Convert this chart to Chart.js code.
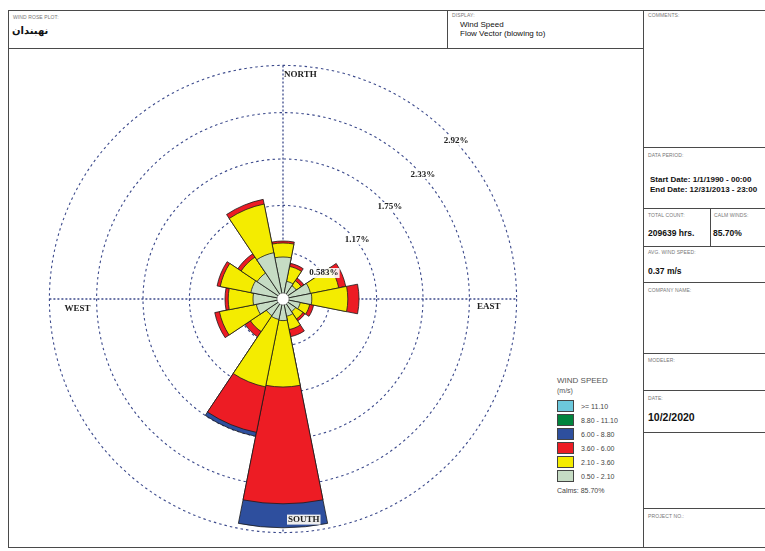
<!DOCTYPE html>
<html lang="fa">
<head>
<meta charset="utf-8" />
<title>Wind Rose</title>
<script src="https://cdn.jsdelivr.net/npm/chart.js@4.4.1/dist/chart.umd.min.js"></script>
<style>
  html, body { margin: 0; padding: 0; background: #fff; width: 765px; height: 551px; overflow: hidden; }
  body { position: relative; font-family: "Liberation Sans", Arial, sans-serif; color: #111; }
  .ln { position: absolute; background: #4a4a4a; }
  .cap { position: absolute; font-size: 5px; color: #777; line-height: 1; letter-spacing: 0.1px; }
  .val { position: absolute; font-size: 8.5px; font-weight: bold; line-height: 1; color: #111; }
  #rose { position: absolute; left: 33px; top: 49px; }
  #legend { position: absolute; left: 557px; top: 376px; font-size: 7px; color: #444; }
  #legend .ttl { font-size: 8px; line-height: 10px; color: #555; }
  #legend .row { height: 14px; display: flex; align-items: center; }
  #legend .sw { width: 15px; height: 10px; border: 1px solid #444; margin-right: 7px; }
</style>
</head>
<body>
  <!-- frame -->
  <div class="ln" style="left:8px;top:10px;width:760px;height:1px"></div>
  <div class="ln" style="left:8px;top:10px;width:1px;height:538px"></div>
  <div class="ln" style="left:8px;top:547px;width:760px;height:1px"></div>
  <div class="ln" style="left:8px;top:48px;width:636px;height:1px"></div>
  <div class="ln" style="left:447px;top:10px;width:1px;height:38px"></div>
  <div class="ln" style="left:643px;top:10px;width:1px;height:538px"></div>
  <div class="ln" style="left:643px;top:147px;width:125px;height:1px"></div>
  <div class="ln" style="left:643px;top:208px;width:125px;height:1px"></div>
  <div class="ln" style="left:710px;top:208px;width:1px;height:38px"></div>
  <div class="ln" style="left:643px;top:246px;width:125px;height:1px"></div>
  <div class="ln" style="left:643px;top:282px;width:125px;height:1px"></div>
  <div class="ln" style="left:643px;top:353px;width:125px;height:1px"></div>
  <div class="ln" style="left:643px;top:390px;width:125px;height:1px"></div>
  <div class="ln" style="left:643px;top:432px;width:125px;height:1px"></div>
  <div class="ln" style="left:643px;top:508px;width:125px;height:1px"></div>

  <!-- header texts -->
  <div class="cap" style="left:13px;top:15px">WIND ROSE PLOT:</div>
  <div style="position:absolute;left:12px;top:25px;font-size:10px;font-weight:bold;font-family:'DejaVu Sans',sans-serif" dir="rtl">نهبندان</div>
  <div class="cap" style="left:452px;top:13px">DISPLAY:</div>
  <div style="position:absolute;left:460px;top:20px;font-size:8px;line-height:9px">Wind Speed<br>Flow Vector (blowing to)</div>
  <div class="cap" style="left:648px;top:13px">COMMENTS:</div>
  <div class="cap" style="left:648px;top:153px">DATA PERIOD:</div>
  <div class="val" style="left:650px;top:175px;line-height:10px;font-size:8px">Start Date: 1/1/1990 - 00:00<br>End Date: 12/31/2013 - 23:00</div>
  <div class="cap" style="left:648px;top:213px">TOTAL COUNT:</div>
  <div class="cap" style="left:714px;top:213px">CALM WINDS:</div>
  <div class="val" style="left:648px;top:229px">209639 hrs.</div>
  <div class="val" style="left:713px;top:229px">85.70%</div>
  <div class="cap" style="left:648px;top:250px">AVG. WIND SPEED:</div>
  <div class="val" style="left:648px;top:267px">0.37 m/s</div>
  <div class="cap" style="left:648px;top:288px">COMPANY NAME:</div>
  <div class="cap" style="left:648px;top:358px">MODELER:</div>
  <div class="cap" style="left:648px;top:396px">DATE:</div>
  <div class="val" style="left:648px;top:412px;font-size:10.5px">10/2/2020</div>
  <div class="cap" style="left:648px;top:514px">PROJECT NO.:</div>

  <canvas id="rose" width="500" height="500"></canvas>
  <div id="legend"></div>

<script>
// directions the wind blows TO, clockwise from north
const directions = ["N", "NNE", "NE", "ENE", "E", "ESE", "SE", "SSE", "S", "SSW", "SW", "WSW", "W", "WNW", "NW", "NNW"];
const speedBins = ["0.50 - 2.10", "2.10 - 3.60", "3.60 - 6.00", "6.00 - 8.80", "8.80 - 11.10", ">= 11.10"];

// frequency (%) per direction, one array per speed class
const freq050_210 = [0.525, 0.225, 0.20, 0.35, 0.36, 0.22, 0.19, 0.22, 0.27, 0.26, 0.25, 0.34, 0.375, 0.41, 0.39, 0.59];
const freq210_360 = [0.175, 0.19, 0.075, 0.36, 0.45, 0.12, 0.11, 0.17, 0.83, 0.86, 0.24, 0.47, 0.31, 0.39, 0.24, 0.62];
const freq360_600 = [0.025, 0.04, 0.04, 0.09, 0.14, 0.05, 0.03, 0.09, 1.46, 0.58, 0.08, 0.06, 0.04, 0.04, 0.05, 0.06];
const freq600_880 = [0, 0, 0, 0, 0, 0, 0, 0, 0.30, 0.05, 0, 0, 0, 0, 0, 0];
const freq880_1110 = [0, 0, 0, 0, 0, 0, 0, 0, 0, 0, 0, 0, 0, 0, 0, 0];
const freq1110up = [0, 0, 0, 0, 0, 0, 0, 0, 0, 0, 0, 0, 0, 0, 0, 0];

const ringTicks = [0.583, 1.17, 1.75, 2.33, 2.92];
const ringLabels = ["0.583%", "1.17%", "1.75%", "2.33%", "2.92%"];
const calmsText = "Calms: 85.70%";

const binColors = ["#c6dcc4", "#f4ec00", "#ed1c24", "#2e4f9e", "#00843d", "#6cc8dc"];
const gridColor = "#3c4a8c";

const allBins = [freq050_210, freq210_360, freq360_600, freq600_880, freq880_1110, freq1110up];

// stack by hand: polarArea draws datasets on top of each other, smallest on top
const datasets = allBins.map(function (bin, b) {
    const cum = directions.map(function (d, i) {
        if (bin[i] <= 0) return 0;
        let s = 0;
        for (let k = 0; k <= b; k++) s += allBins[k][i];
        return s;
    });
    return {
        label: speedBins[b],
        data: cum,
        backgroundColor: binColors[b],
        borderColor: "#1a1a1a",
        borderWidth: 0.8
    };
});

const roseDecor = {
    id: "roseDecor",
    beforeDatasetsDraw(chart) {
        const r = chart.scales.r;
        const R = r.getDistanceFromCenterForValue(ringTicks[ringTicks.length - 1]);
        const ctx = chart.ctx;
        ctx.save();
        ctx.strokeStyle = gridColor;
        ctx.lineWidth = 1.3;
        ctx.setLineDash([2, 2]);
        ctx.beginPath();
        ctx.moveTo(r.xCenter, r.yCenter - R);
        ctx.lineTo(r.xCenter, r.yCenter + R);
        ctx.moveTo(r.xCenter - R, r.yCenter);
        ctx.lineTo(r.xCenter + R, r.yCenter);
        ctx.stroke();
        ctx.restore();
    },
    afterDatasetsDraw(chart) {
        const r = chart.scales.r;
        const ctx = chart.ctx;
        const cx = r.xCenter, cy = r.yCenter;
        const R = r.getDistanceFromCenterForValue(ringTicks[ringTicks.length - 1]);
        ctx.save();
        // calm circle
        ctx.beginPath();
        ctx.arc(cx, cy, r.getDistanceFromCenterForValue(0.075), 0, Math.PI * 2);
        ctx.fillStyle = "#fff";
        ctx.fill();
        ctx.lineWidth = 0.6;
        ctx.strokeStyle = "#666";
        ctx.stroke();

        // ring labels along the NE diagonal
        ctx.font = "bold 9px 'Liberation Serif', serif";
        ctx.textAlign = "center";
        ctx.textBaseline = "middle";
        ringTicks.forEach(function (v, i) {
            const d = r.getDistanceFromCenterForValue(v);
            const x = cx + d * Math.SQRT1_2 + 8;
            const y = cy - d * Math.SQRT1_2 + 7;
            const w = ctx.measureText(ringLabels[i]).width;
            ctx.fillStyle = "rgba(255,255,255,0.9)";
            ctx.fillRect(x - w / 2 - 1, y - 5, w + 2, 10);
            ctx.fillStyle = "#222";
            ctx.fillText(ringLabels[i], x, y);
        });

        // compass labels
        ctx.textAlign = "left";
        ctx.fillStyle = "#222";
        ctx.fillText("NORTH", cx + 1, cy - R + 9);
        ctx.fillText("WEST", cx - R + 15, cy + 10);
        ctx.textAlign = "right";
        ctx.fillText("EAST", cx + R - 16, cy + 8);
        ctx.textAlign = "left";
        const sw = ctx.measureText("SOUTH").width;
        const sy = cy + R - 13;
        ctx.fillStyle = "#eeeeee";
        ctx.fillRect(cx + 4, sy - 5, sw + 2, 10);
        ctx.fillStyle = "#222";
        ctx.fillText("SOUTH", cx + 5, sy);
        ctx.restore();
    }
};

new Chart(document.getElementById("rose").getContext("2d"), {
    type: "polarArea",
    data: { labels: directions, datasets: datasets },
    options: {
        responsive: false,
        animation: false,
        layout: { padding: 0 },
        plugins: { legend: { display: false }, tooltip: { enabled: false } },
        scales: {
            r: {
                min: 0,
                max: 3.125,
                startAngle: -11.25,
                ticks: { display: false },
                afterBuildTicks: function (scale) {
                    scale.ticks = [0].concat(ringTicks).map(function (v) { return { value: v }; });
                },
                grid: { circular: true, color: gridColor, lineWidth: 1.1 },
                border: { dash: [2.5, 3] },
                angleLines: { display: false },
                pointLabels: { display: false }
            }
        }
    },
    plugins: [roseDecor]
});

// legend, highest class first as in the original
const legend = document.getElementById("legend");
let html = '<div class="ttl">WIND SPEED</div><div class="ttl" style="font-size:7px;margin-bottom:3px">(m/s)</div>';
for (let b = speedBins.length - 1; b >= 0; b--) {
    html += '<div class="row"><div class="sw" style="background:' + binColors[b] + '"></div>' + speedBins[b] + '</div>';
}
html += '<div style="margin-top:4px">' + calmsText + '</div>';
legend.innerHTML = html;
</script>
</body>
</html>
